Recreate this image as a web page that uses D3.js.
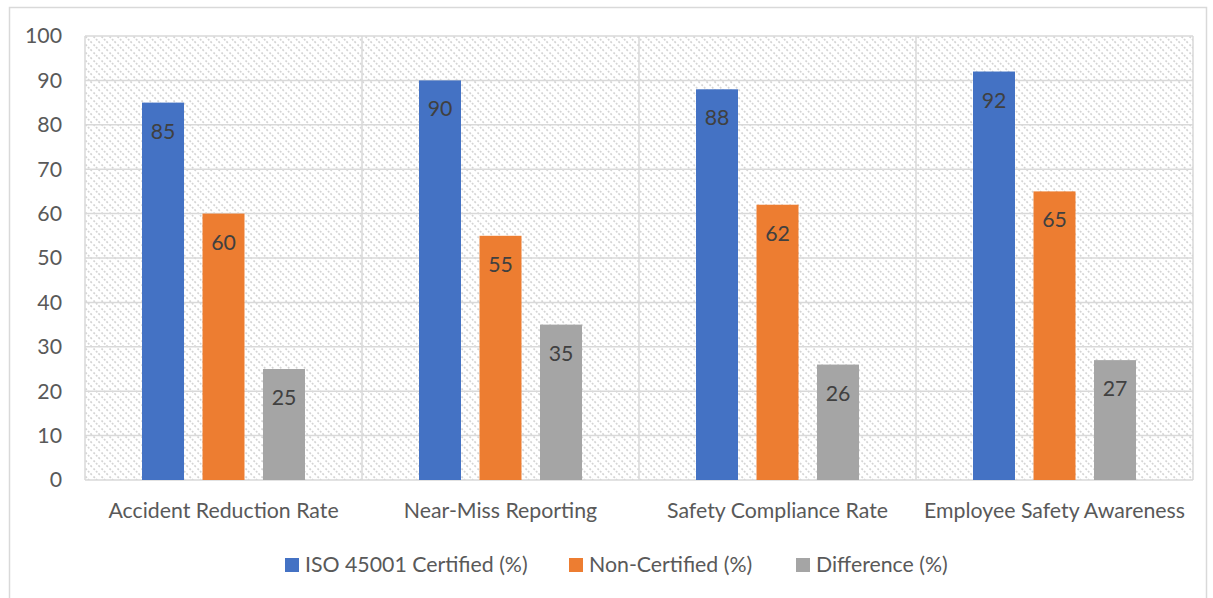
<!doctype html>
<html>
<head>
<script src="https://d3js.org/d3.v7.min.js"></script>
<style>
  body { margin: 0; background: #fff; }
  svg { display: block; font-family: Lato, "Open Sans", sans-serif; }
</style>
</head>
<body>
<script>
  var categories = ["Accident Reduction Rate", "Near-Miss Reporting", "Safety Compliance Rate", "Employee Safety Awareness"];
  var seriesNames = ["ISO 45001 Certified (%)", "Non-Certified (%)", "Difference (%)"];
  var certified = [85, 90, 88, 92];
  var nonCertified = [60, 55, 62, 65];
  var difference = [25, 35, 26, 27];
  var yTicks = [0, 10, 20, 30, 40, 50, 60, 70, 80, 90, 100];
  var colors = ["#4472c4", "#ed7d31", "#a5a5a5"];

  var W = 1213, H = 598;
  var margin = {top: 36, right: 20, bottom: 118, left: 85};
  var width = 1193 - margin.left, height = 480 - margin.top;
  var fs = 21.3;

  var svg = d3.select("body").append("svg").attr("width", W).attr("height", H);

  // hatched plot background
  var pat = svg.append("defs").append("pattern")
    .attr("id", "hatch").attr("patternUnits", "userSpaceOnUse")
    .attr("width", 8).attr("height", 8);
  pat.append("path").attr("d", "M-2,-2 L10,10 M-2,6 L2,10 M6,-2 L10,2")
    .attr("stroke", "#d4d4d4").attr("stroke-width", 1.6).attr("stroke-dasharray", "2,1.5");

  // outer chart border
  svg.append("rect").attr("x", 9.5).attr("y", 7.5).attr("width", 1197).attr("height", 600)
    .attr("fill", "none").attr("stroke", "#d9d9d9").attr("stroke-width", 1.5);

  var g = svg.append("g").attr("transform", "translate(" + margin.left + "," + margin.top + ")");

  var groupW = 163;
  var x0 = d3.scaleBand().domain(categories).range([0, width]);
  var x1 = d3.scaleBand().domain(seriesNames).range([0, groupW]).paddingInner(0.306);
  var y = d3.scaleLinear().domain([0, 100]).range([height, 0]);

  g.append("rect").attr("width", width).attr("height", height).attr("fill", "url(#hatch)");

  // gridlines
  g.selectAll(".grid").data(yTicks).enter().append("line")
    .attr("x1", 0).attr("x2", width)
    .attr("y1", function(d) { return y(d); }).attr("y2", function(d) { return y(d); })
    .attr("stroke", "#d9d9d9").attr("stroke-width", 1.5);

  // category separators
  var seps = [0].concat(categories.map(function(c) { return x0(c) + x0.bandwidth(); }));
  g.selectAll(".sep").data(seps).enter().append("line")
    .attr("x1", function(d) { return d; }).attr("x2", function(d) { return d; })
    .attr("y1", 0).attr("y2", height)
    .attr("stroke", "#d9d9d9").attr("stroke-width", 1.5);

  var series = [certified, nonCertified, difference];
  var rows = [];
  categories.forEach(function(c, i) {
    seriesNames.forEach(function(s, j) {
      rows.push({cat: c, name: s, value: series[j][i], color: colors[j]});
    });
  });

  var offset = (x0.bandwidth() - groupW) / 2;
  var bars = g.selectAll(".bar").data(rows).enter().append("g")
    .attr("transform", function(d) { return "translate(" + (x0(d.cat) + offset + x1(d.name)) + ",0)"; });

  bars.append("rect")
    .attr("y", function(d) { return y(d.value); })
    .attr("width", x1.bandwidth())
    .attr("height", function(d) { return height - y(d.value); })
    .attr("fill", function(d) { return d.color; });

  bars.append("text")
    .attr("x", x1.bandwidth() / 2)
    .attr("y", function(d) { return y(d.value) + 36; })
    .attr("text-anchor", "middle")
    .attr("fill", "#404040").attr("font-size", fs)
    .text(function(d) { return d.value; });

  // y axis labels
  var yAxis = g.append("g").call(d3.axisLeft(y).tickValues(yTicks).tickSize(0).tickPadding(23));
  yAxis.select(".domain").remove();
  yAxis.selectAll("text").attr("font-size", fs).attr("fill", "#595959").attr("font-family", "Lato, sans-serif");

  // x axis labels
  var xAxis = g.append("g").attr("transform", "translate(0," + height + ")")
    .call(d3.axisBottom(x0).tickSize(0).tickPadding(23));
  xAxis.select(".domain").remove();
  xAxis.selectAll("text").attr("font-size", fs).attr("fill", "#595959").attr("font-family", "Lato, sans-serif");

  // legend
  var legX = [285, 569, 796];
  var leg = svg.selectAll(".leg").data(seriesNames).enter().append("g")
    .attr("transform", function(d, i) { return "translate(" + legX[i] + ",558)"; });
  leg.append("rect").attr("width", 14).attr("height", 14).attr("fill", function(d, i) { return colors[i]; });
  leg.append("text").attr("x", 20).attr("y", 14).attr("font-size", fs).attr("fill", "#595959")
    .text(function(d) { return d; });
</script>
</body>
</html>
